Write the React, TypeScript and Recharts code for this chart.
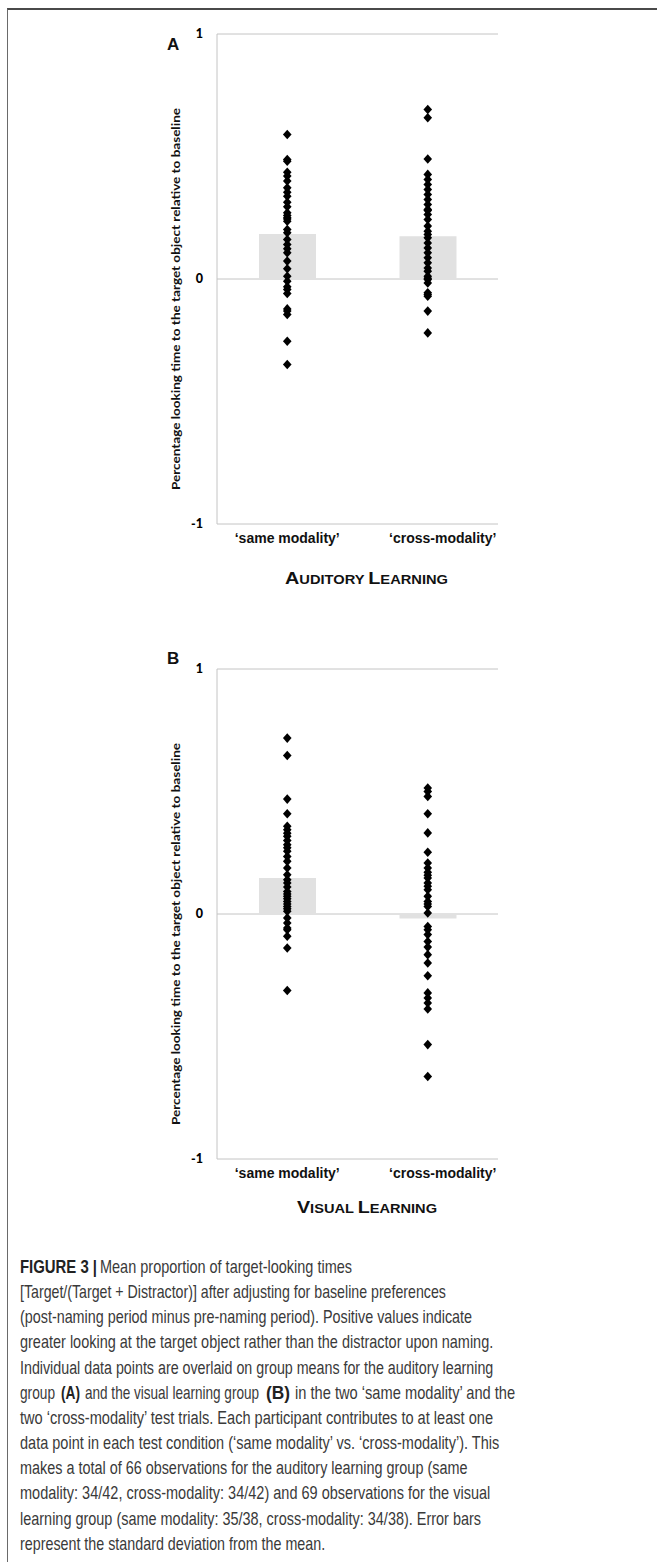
import React, { useLayoutEffect, useRef, useState } from "react";
import { ComposedChart, Bar, Scatter, XAxis, YAxis, CartesianGrid } from "recharts";

// conditions on the x axis (numeric positions so bars + dots share one scale)
const conditions = ["‘same modality’", "‘cross-modality’"];
const condX = [0.5, 1.5];
const yTicks = [-1, 0, 1];

// A: auditory learning group
const meansAuditory = [0.184, 0.175];
const sameAuditory = [
  0.59, 0.488, 0.481, 0.436, 0.42, 0.4, 0.372, 0.354, 0.338, 0.313, 0.295, 0.27,
  0.259, 0.25, 0.245, 0.236, 0.202, 0.189, 0.161, 0.141, 0.123, 0.107, 0.073, 0.042,
  0.011, -0.009, -0.032, -0.043, -0.059, -0.122, -0.131, -0.145, -0.254, -0.349,
];
const crossAuditory = [
  0.692, 0.658, 0.49, 0.427, 0.406, 0.386, 0.365, 0.345, 0.324, 0.304, 0.284, 0.28,
  0.263, 0.243, 0.216, 0.195, 0.182, 0.168, 0.147, 0.127, 0.107, 0.087, 0.066, 0.045,
  0.032, 0.011, 0.003, -0.002, -0.016, -0.056, -0.063, -0.07, -0.131, -0.22,
];

// B: visual learning group
const meansVisual = [0.147, -0.018];
const sameVisual = [
  0.718, 0.647, 0.469, 0.409, 0.358, 0.344, 0.33, 0.317, 0.3, 0.283, 0.27, 0.256,
  0.235, 0.215, 0.188, 0.16, 0.14, 0.127, 0.11, 0.092, 0.082, 0.072, 0.062, 0.051,
  0.041, 0.031, 0.021, 0.011, -0.016, -0.037, -0.057, -0.064, -0.091, -0.139, -0.312,
];
const crossVisual = [
  0.514, 0.5, 0.48, 0.409, 0.331, 0.252, 0.208, 0.188, 0.17, 0.158, 0.147, 0.127,
  0.113, 0.099, 0.072, 0.051, 0.041, 0.031, 0.004, -0.051, -0.064, -0.084, -0.112,
  -0.135, -0.166, -0.2, -0.252, -0.322, -0.343, -0.363, -0.388, -0.533, -0.663,
];

const yLabel = "Percentage looking time to the target object relative to baseline";

// caption: each line is a list of [text, bold, x, width] runs (the print is squeezed horizontally)
type Run = [string, boolean, number, number];
const captionLines: Run[][] = [
  [["FIGURE 3 |", true, 20, 77], ["Mean proportion of target-looking times", false, 100, 252]],
  [["[Target/(Target + Distractor)] after adjusting for baseline preferences", false, 20, 426]],
  [["(post-naming period minus pre-naming period). Positive values indicate", false, 20, 452]],
  [["greater looking at the target object rather than the distractor upon naming.", false, 20, 473]],
  [["Individual data points are overlaid on group means for the auditory learning", false, 20, 473]],
  [
    ["group", false, 20, 35],
    ["(A)", true, 61, 19],
    ["and the visual learning group", false, 85, 174],
    ["(B)", true, 266, 24],
    ["in the two ‘same modality’ and the", false, 295, 220],
  ],
  [["two ‘cross-modality’ test trials. Each participant contributes to at least one", false, 20, 473]],
  [["data point in each test condition (‘same modality’ vs. ‘cross-modality’). This", false, 20, 479]],
  [["makes a total of 66 observations for the auditory learning group (same", false, 20, 447]],
  [["modality: 34/42, cross-modality: 34/42) and 69 observations for the visual", false, 20, 470]],
  [["learning group (same modality: 35/38, cross-modality: 34/38). Error bars", false, 20, 461]],
  [["represent the standard deviation from the mean.", false, 20, 305]],
];

const DARK = "#111";

function Diamond(props: any) {
  const { cx, cy } = props;
  if (cx == null || cy == null) return null;
  return (
    <polygon
      points={`${cx},${cy - 4.8} ${cx + 4.3},${cy} ${cx},${cy + 4.8} ${cx - 4.3},${cy}`}
      fill="#000"
    />
  );
}

function CondTick(props: any) {
  const { x, y, payload } = props;
  const i = condX.indexOf(payload.value);
  const shift = i === 1 ? 15 : 0;
  return (
    <text
      x={x + shift}
      y={y + 19}
      textAnchor="middle"
      fontFamily="'Liberation Sans', Arial, sans-serif"
      fontWeight="bold"
      fontSize={14}
      fill={DARK}
    >
      {conditions[i]}
    </text>
  );
}

function Panel({ top, means, same, cross }: { top: number; means: number[]; same: number[]; cross: number[] }) {
  const barRows = condX.map((x, i) => ({ x, v: means[i] }));
  const dots = [
    ...same.map((v) => ({ x: condX[0], v })),
    ...cross.map((v) => ({ x: condX[1], v })),
  ];
  return (
    <div style={{ position: "absolute", left: 0, top }}>
      <ComposedChart
        width={657}
        height={600}
        data={barRows}
        margin={{ top: 34, right: 159, bottom: 36, left: 160 }}
      >
        <CartesianGrid vertical={false} stroke="#c4c4c4" />
        <XAxis
          type="number"
          dataKey="x"
          domain={[0, 2]}
          ticks={condX}
          interval={0}
          height={40}
          axisLine={false}
          tickLine={false}
          tickSize={0}
          tickMargin={0}
          tick={(p: any) => <CondTick {...p} />}
        />
        <YAxis
          type="number"
          domain={[-1, 1]}
          ticks={yTicks}
          width={57}
          tickLine={false}
          tickSize={0}
          tickMargin={14}
          axisLine={{ stroke: "#c4c4c4" }}
          tick={{ fontFamily: "Lato, sans-serif", fontWeight: 900, fontSize: 12.5, fill: "#000" }}
        />
        <Bar dataKey="v" fill="#e1e1e1" barSize={57} isAnimationActive={false} />
        <Scatter data={dots} dataKey="v" shape={Diamond} isAnimationActive={false} />
      </ComposedChart>
    </div>
  );
}

function SmallCaps({ x, y, width, words }: { x: number; y: number; width: number; words: string[] }) {
  return (
    <text
      x={x}
      y={y}
      textLength={width}
      lengthAdjust="spacingAndGlyphs"
      fontFamily="'Liberation Sans', Arial, sans-serif"
      fontWeight="bold"
      fill={DARK}
    >
      {words.map((w, i) => (
        <React.Fragment key={i}>
          <tspan fontSize={17}>{w[0]}</tspan>
          <tspan fontSize={12.6}>{w.slice(1) + (i < words.length - 1 ? " " : "")}</tspan>
        </React.Fragment>
      ))}
    </text>
  );
}

// squeezes a text run horizontally to the measured width of the printed caption
function FitText({ x, y, w, bold, children }: { x: number; y: number; w: number; bold: boolean; children: string }) {
  const ref = useRef<SVGTextElement>(null);
  const [sx, setSx] = useState(0.68);
  useLayoutEffect(() => {
    const el = ref.current;
    if (!el) return;
    const len = el.getComputedTextLength();
    if (len > 0) setSx(w / len);
  }, [w, children]);
  return (
    <g transform={`translate(${x},${y}) scale(${sx},1)`}>
      <text
        ref={ref}
        x={0}
        y={0}
        fontFamily="'Liberation Sans', Arial, sans-serif"
        fontSize={18}
        fontWeight={bold ? "bold" : "normal"}
        fill={bold ? "#222" : "#3a3a3a"}
      >
        {children}
      </text>
    </g>
  );
}

export default function App() {
  return (
    <div style={{ position: "absolute", left: 0, top: 0, width: 657, height: 1562, background: "#fff" }}>
      <div
        style={{
          position: "absolute",
          left: 7,
          top: 8,
          width: 650,
          height: 1554,
          boxSizing: "border-box",
          borderTop: "2px solid #4a4a4a",
          borderLeft: "1.5px solid #6a6a6a",
        }}
      />
      <Panel top={0} means={meansAuditory} same={sameAuditory} cross={crossAuditory} />
      <Panel top={635} means={meansVisual} same={sameVisual} cross={crossVisual} />

      <svg
        width={657}
        height={1562}
        style={{ position: "absolute", left: 0, top: 0, pointerEvents: "none" }}
      >
        <text x={167} y={50} fontFamily="'Liberation Sans', Arial, sans-serif" fontWeight="bold" fontSize={17} fill={DARK}>
          A
        </text>
        <text x={167} y={664} fontFamily="'Liberation Sans', Arial, sans-serif" fontWeight="bold" fontSize={17} fill={DARK}>
          B
        </text>

        {[299, 934].map((cy, i) => (
          <text
            key={i}
            transform={`translate(180, ${cy}) rotate(-90)`}
            textAnchor="middle"
            textLength={382}
            lengthAdjust="spacingAndGlyphs"
            fontFamily="Lato, sans-serif"
            fontWeight={700}
            fontSize={11}
            fill={DARK}
          >
            {yLabel}
          </text>
        ))}

        <SmallCaps x={285} y={584} width={163} words={["AUDITORY", "LEARNING"]} />
        <SmallCaps x={297} y={1213} width={140} words={["VISUAL", "LEARNING"]} />

        {captionLines.map((runs, i) =>
          runs.map(([t, b, x, w], j) => (
            <FitText key={`${i}-${j}`} x={x} y={1273 + i * 25.15} w={w} bold={b}>
              {t}
            </FitText>
          ))
        )}
      </svg>
    </div>
  );
}
